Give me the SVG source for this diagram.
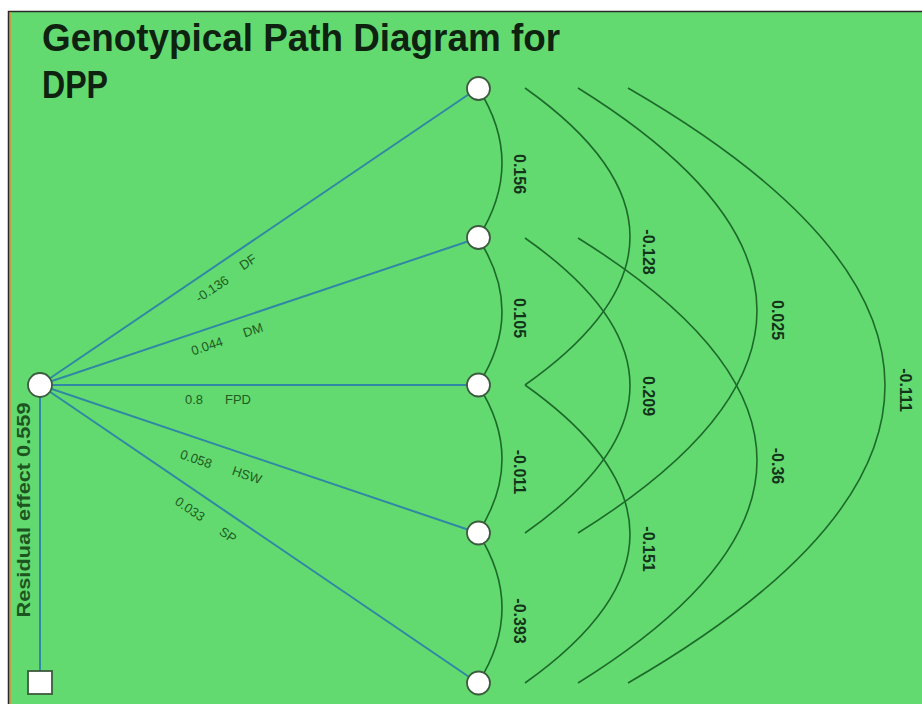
<svg xmlns="http://www.w3.org/2000/svg" width="922" height="704" viewBox="0 0 922 704">
<defs>
<style>
.path{stroke:#2f88a4;stroke-width:2;fill:none}
.corr{stroke:#1c6a2a;stroke-width:1.6;fill:none}
.node{fill:#ffffff;stroke:#3b5b3e;stroke-width:1.8}
.title{font-family:"Liberation Sans",Arial,sans-serif;font-weight:bold;font-size:38px;fill:#0e220f}
.cl{font-family:"Liberation Sans",Arial,sans-serif;font-weight:bold;font-size:16px;fill:#12321a;text-anchor:middle;dominant-baseline:central}
.pl{font-family:"Liberation Sans",Arial,sans-serif;font-size:13px;fill:#1d5c22;text-anchor:middle;dominant-baseline:central}
.res{font-family:"Liberation Sans",Arial,sans-serif;font-weight:bold;font-size:19px;fill:#1d5520;text-anchor:middle;dominant-baseline:central}
</style>
</defs>
<rect x="0" y="0" width="922" height="704" fill="#ffffff"/>
<rect x="8.5" y="11.5" width="920" height="700" fill="#63da70" stroke="#2a2a2a" stroke-width="1.5"/>
<line x1="10.5" y1="12" x2="10.5" y2="704" stroke="#b9a24a" stroke-width="1"/>
<text class="title" x="42" y="51" textLength="518" lengthAdjust="spacingAndGlyphs">Genotypical Path Diagram for</text>
<text class="title" x="42" y="98" textLength="66" lengthAdjust="spacingAndGlyphs">DPP</text>

<g id="connectors">
<line class="path" x1="40" y1="385" x2="478" y2="88"/>
<line class="path" x1="40" y1="385" x2="478" y2="238"/>
<line class="path" x1="40" y1="385" x2="478" y2="385"/>
<line class="path" x1="40" y1="385" x2="478" y2="533"/>
<line class="path" x1="40" y1="385" x2="478" y2="683"/>
<line class="path" x1="40" y1="397" x2="40" y2="671"/>

<path class="corr" d="M478,88 Q526,163 478,238"/>
<path class="corr" d="M478,238 Q526,311.5 478,385"/>
<path class="corr" d="M478,385 Q526,459 478,533"/>
<path class="corr" d="M478,533 Q526,608 478,683"/>

<path class="corr" d="M525,88 Q735,237 525,385"/>
<path class="corr" d="M525,238 Q735,385.5 525,533"/>
<path class="corr" d="M525,385 Q735,534 525,683"/>

<path class="corr" d="M578,88 Q936,310.5 578,533"/>
<path class="corr" d="M578,238 Q936,460.5 578,683"/>

<path class="corr" d="M628,88 Q1142,385.5 628,683"/>

<text class="cl" transform="translate(519,174) rotate(90)">0.156</text>
<text class="cl" transform="translate(519,318) rotate(90)">0.105</text>
<text class="cl" transform="translate(519,472) rotate(90)">-0.011</text>
<text class="cl" transform="translate(519,621) rotate(90)">-0.393</text>
<text class="cl" transform="translate(648,252) rotate(90)">-0.128</text>
<text class="cl" transform="translate(648,396) rotate(90)">0.209</text>
<text class="cl" transform="translate(648,549) rotate(90)">-0.151</text>
<text class="cl" transform="translate(777,320) rotate(90)">0.025</text>
<text class="cl" transform="translate(777,466) rotate(90)">-0.36</text>
<text class="cl" transform="translate(905,390) rotate(90)">-0.111</text>

<text class="pl" transform="translate(212,289) rotate(-34)">-0.136</text>
<text class="pl" transform="translate(248,262) rotate(-34)">DF</text>
<text class="pl" transform="translate(207,346) rotate(-18.5)">0.044</text>
<text class="pl" transform="translate(253,330) rotate(-18.5)">DM</text>
<text class="pl" transform="translate(194,399)">0.8</text>
<text class="pl" transform="translate(238,399)">FPD</text>
<text class="pl" transform="translate(196,459) rotate(18.6)">0.058</text>
<text class="pl" transform="translate(247,475) rotate(18.6)">HSW</text>
<text class="pl" transform="translate(190,509) rotate(34.2)">0.033</text>
<text class="pl" transform="translate(228,535) rotate(34.2)">SP</text>
<text class="res" transform="translate(23,510) rotate(-90)" textLength="215" lengthAdjust="spacingAndGlyphs">Residual effect  0.559</text>
</g>

<g id="node-DPP"><circle class="node" cx="40" cy="385" r="12"/></g>
<g id="node-DF"><circle class="node" cx="478.5" cy="88.5" r="11.5"/></g>
<g id="node-DM"><circle class="node" cx="478.5" cy="237.5" r="11.5"/></g>
<g id="node-FPD"><circle class="node" cx="478.5" cy="385" r="11.5"/></g>
<g id="node-HSW"><circle class="node" cx="478.5" cy="533" r="11.5"/></g>
<g id="node-SP"><circle class="node" cx="478.5" cy="683" r="11.5"/></g>
<g id="node-residual"><rect class="node" x="28" y="671" width="24" height="23"/></g>
</svg>
